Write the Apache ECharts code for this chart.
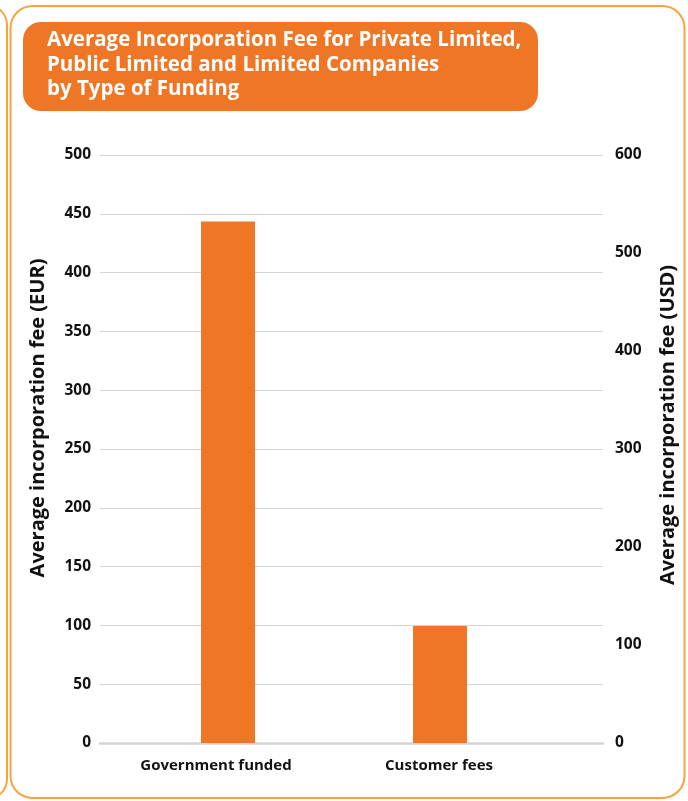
<!DOCTYPE html>
<html><head><meta charset="utf-8">
<script src="https://cdn.jsdelivr.net/npm/echarts@6/dist/echarts.min.js"></script>
<style>html,body{margin:0;padding:0;background:#fff}#c{width:688px;height:801px}</style>
</head><body><div id="c"></div>
<script>
const categories = ['Government funded', 'Customer fees'];
const feeEUR = [443.5, 99.5];
const leftTicks = { min: 0, max: 500, interval: 50 };
const rightTicks = { min: 0, max: 600, interval: 100 };
const titleLines = ['Average Incorporation Fee for Private Limited,', 'Public Limited and Limited Companies', 'by Type of Funding'];
const leftAxisName = 'Average incorporation fee (EUR)';
const rightAxisName = 'Average incorporation fee (USD)';

const FONT = '"Open Sans"';
const ORANGE = '#EE7625';
const labelShift = [24, 2];
const nameStyle = { fill: '#111', font: 'bold 20px "Open Sans"', align: 'center', verticalAlign: 'middle' };
const chart = echarts.init(document.getElementById('c'));
chart.setOption({
  animation: false,
  title: {
    text: titleLines.join('\n'),
    left: 42, top: 23,
    textStyle: { color: '#fff', fontFamily: FONT, fontWeight: 'bold', fontSize: 20.5, lineHeight: 24.5 }
  },
  graphic: [
    { type: 'rect', z: -10, shape: { x: -600, y: 5, width: 607, height: 794, r: 20 }, style: { fill: 'none', stroke: '#F7A440', lineWidth: 2 } },
    { type: 'rect', z: -10, shape: { x: 10.5, y: 6, width: 674, height: 792, r: 22 }, style: { fill: 'none', stroke: '#F7A440', lineWidth: 2 } },
    { type: 'rect', z: -9, shape: { x: 23, y: 22, width: 515, height: 89, r: 18 }, style: { fill: ORANGE } },
    { type: 'text', x: 38, y: 418, rotation: Math.PI / 2, style: Object.assign({ text: leftAxisName }, nameStyle) },
    { type: 'text', x: 668, y: 425, rotation: Math.PI / 2, style: Object.assign({ text: rightAxisName }, nameStyle) }
  ],
  grid: [
    { left: 100, right: 85, top: 155, bottom: 58 },
    { left: 122, right: 142, top: 155, bottom: 58 }
  ],
  xAxis: [
    { type: 'category', gridIndex: 0, data: categories, axisLabel: { show: false }, axisTick: { show: false },
      axisLine: { lineStyle: { color: '#D4D4D4', width: 2.5 } } },
    { type: 'category', gridIndex: 1,
      data: categories.map((c, i) => ({ value: c, textStyle: { padding: [0, labelShift[i], 0, 0] } })),
      axisLine: { show: false }, axisTick: { show: false },
      axisLabel: { margin: 15, color: '#111', fontFamily: FONT, fontWeight: 'bold', fontSize: 15 } }
  ],
  yAxis: [
    { type: 'value', gridIndex: 0, position: 'left', min: leftTicks.min, max: leftTicks.max, interval: leftTicks.interval,
      axisLabel: { margin: 9, color: '#111', fontFamily: FONT, fontWeight: 'bold', fontSize: 15.5 },
      axisLine: { show: false }, axisTick: { show: false },
      splitLine: { lineStyle: { color: '#D4D4D4', width: 1 } } },
    { type: 'value', gridIndex: 0, position: 'right', min: rightTicks.min, max: rightTicks.max, interval: rightTicks.interval,
      axisLabel: { margin: 12, color: '#111', fontFamily: FONT, fontWeight: 'bold', fontSize: 15.5 },
      axisLine: { show: false }, axisTick: { show: false }, splitLine: { show: false } },
    { type: 'value', gridIndex: 1, min: leftTicks.min, max: leftTicks.max, show: false }
  ],
  series: [
    { type: 'bar', xAxisIndex: 1, yAxisIndex: 2, data: feeEUR, barWidth: 54, itemStyle: { color: ORANGE } }
  ]
});
</script></body></html>
